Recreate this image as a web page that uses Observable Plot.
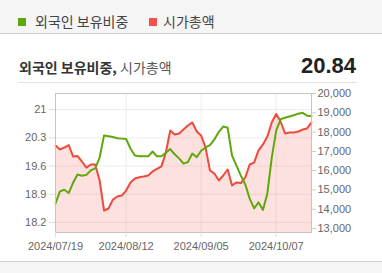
<!DOCTYPE html>
<html>
<head>
<meta charset="utf-8">
<script src="https://cdn.jsdelivr.net/npm/d3@7"></script>
<script src="https://cdn.jsdelivr.net/npm/@observablehq/plot@0.6"></script>
<style>
  html, body { margin:0; padding:0; background:#fff; }
  #page { position:relative; width:382px; height:273px; overflow:hidden; font-family:"Noto Sans CJK KR", "Noto Sans", sans-serif; }
  #legendBar { position:absolute; left:0; top:0; width:382px; height:33px; background:#f5f5f5; border-bottom:1px solid #cfcfcf; }
  .sw { position:absolute; width:8px; height:8px; top:18px; }
  .lt { position:absolute; top:11px; font-size:14px; line-height:20px; color:#444; white-space:nowrap; }
  #title { position:absolute; left:19px; top:56px; font-size:14px; line-height:22px; white-space:nowrap; color:#333; }
  #title b { font-weight:700; color:#333; }
  #title span { color:#555; }
  #value { position:absolute; right:26px; top:53px; font-family:"Liberation Sans", Arial, sans-serif; font-weight:700; font-size:22px; line-height:26px; color:#222; }
  #rule { position:absolute; left:18px; top:82px; width:339px; height:1px; background:#e2e2e2; }
  #chart { position:absolute; left:0; top:85px; }
  #footer { position:absolute; left:0; top:261px; width:382px; height:12px; background:#f5f5f5; border-top:1px solid #cfcfcf; }
</style>
</head>
<body>
<div id="page">
  <div id="legendBar">
    <div class="sw" style="left:18px;background:#5ba80b"></div>
    <div class="lt" style="left:35px">외국인 보유비중</div>
    <div class="sw" style="left:149px;background:#f2504a"></div>
    <div class="lt" style="left:163px">시가총액</div>
  </div>
  <div id="title"><b>외국인 보유비중,</b> <span>시가총액</span></div>
  <div id="value"></div>
  <div id="rule"></div>
  <div id="chart"></div>
  <div id="footer"></div>
</div>
<script>
const dates = [
  "2024/07/19","2024/07/22","2024/07/23","2024/07/24","2024/07/25","2024/07/26",
  "2024/07/29","2024/07/30","2024/07/31","2024/08/01","2024/08/02",
  "2024/08/05","2024/08/06","2024/08/07","2024/08/08","2024/08/09",
  "2024/08/12","2024/08/13","2024/08/14","2024/08/16",
  "2024/08/19","2024/08/20","2024/08/21","2024/08/22","2024/08/23",
  "2024/08/26","2024/08/27","2024/08/28","2024/08/29","2024/08/30",
  "2024/09/02","2024/09/03","2024/09/04","2024/09/05","2024/09/06",
  "2024/09/09","2024/09/10","2024/09/11","2024/09/12","2024/09/13",
  "2024/09/19","2024/09/20",
  "2024/09/23","2024/09/24","2024/09/25","2024/09/26","2024/09/27",
  "2024/09/30","2024/10/02","2024/10/04",
  "2024/10/07","2024/10/08","2024/10/10","2024/10/11",
  "2024/10/14","2024/10/15","2024/10/16","2024/10/17","2024/10/18"
];
// 외국인 보유비중 (%)
const foreignRatio = [
  18.67, 18.97, 19.01, 18.93, 19.19, 19.39, 19.36, 19.38, 19.49, 19.54, 19.81,
  20.36, 20.34, 20.32, 20.29, 20.28, 20.27, 20.03, 19.86, 19.84,
  19.84, 19.84, 19.96, 19.84, 19.84, 19.93, 20.02, 19.89, 19.79, 19.66,
  19.70, 19.91, 19.82, 19.98, 20.06, 20.12, 20.26, 20.45, 20.58, 20.55,
  19.86, 19.61, 19.36, 19.14, 18.79, 18.55, 18.70, 18.51, 18.92, 19.81,
  20.48, 20.76, 20.80, 20.83, 20.86, 20.90, 20.92, 20.85, 20.84
];
// 시가총액
const marketCap = [
  17300, 17100, 17200, 17330, 16730, 16760, 16475, 16160, 16320, 16320, 15490,
  13935, 14040, 14500, 14660, 14710, 14970, 15390, 15590, 15660,
  15700, 15750, 15960, 16090, 16220, 16940, 18080, 17870, 17930, 18130,
  18340, 18500, 18030, 17820, 17200, 16010, 15850, 15490, 15750, 16060,
  15230, 15390, 15360, 15650, 16320, 16420, 17050, 17360, 17770, 18500,
  18940, 18550, 17930, 17980, 17980, 18030, 18130, 18190, 18500
];
const leftTicks = [18.2, 18.9, 19.6, 20.3, 21];
const rightTicks = [13000, 14000, 15000, 16000, 17000, 18000, 19000, 20000];
const xTicks = ["2024/07/19", "2024/08/12", "2024/09/05", "2024/10/07"];
const leftDomain = [17.95, 21.4];
const rightDomain = [12795, 20000];

const toLeft = d3.scaleLinear().domain(rightDomain).range(leftDomain);
const rows = dates.map((d, i) => ({date: d, ratio: foreignRatio[i], cap: marketCap[i], capL: toLeft(marketCap[i])}));

document.getElementById("value").textContent = foreignRatio[foreignRatio.length - 1].toFixed(2);

const fmtRight = d3.format(",");
const chart = Plot.plot({
  width: 382,
  height: 175,
  marginLeft: 55,
  marginRight: 71,
  marginTop: 8,
  marginBottom: 28,
  style: {fontFamily: "'Liberation Sans', Arial, sans-serif", fontSize: "11px", color: "#666", background: "transparent"},
  x: {type: "point", domain: dates, padding: 0, round: false, axis: null, label: null},
  y: {domain: leftDomain, axis: null, label: null},
  marks: [
    Plot.areaY(rows, {x: "date", y1: leftDomain[0], y2: "capL", fill: "#fde1df"}),
    Plot.gridY(leftTicks, {stroke: "#999", strokeOpacity: 0.18}),
    Plot.gridX(xTicks, {stroke: "#999", strokeOpacity: 0.18}),
    Plot.line(rows, {x: "date", y: "capL", stroke: "#ef4a3e", strokeWidth: 2}),
    Plot.line(rows, {x: "date", y: "ratio", stroke: "#5ea80d", strokeWidth: 2}),
    Plot.frame({stroke: "#c4c4c4"}),
    Plot.axisY(leftTicks, {anchor: "left", label: null, tickSize: 6, tickPadding: 3, stroke: "#ddd", fill: "#666", tickFormat: d => String(d)}),
    Plot.axisY(rightTicks.map(v => toLeft(v)), {anchor: "right", label: null, tickSize: 4, tickPadding: 2, stroke: "#ccc", fill: "#666", tickFormat: d => fmtRight(Math.round(toLeft.invert(d) / 1000) * 1000)}),
    Plot.axisX(xTicks, {anchor: "bottom", label: null, tickSize: 5, tickPadding: 5, stroke: "#ddd", fill: "#666"})
  ]
});
document.getElementById("chart").appendChild(chart);
</script>
</body>
</html>
